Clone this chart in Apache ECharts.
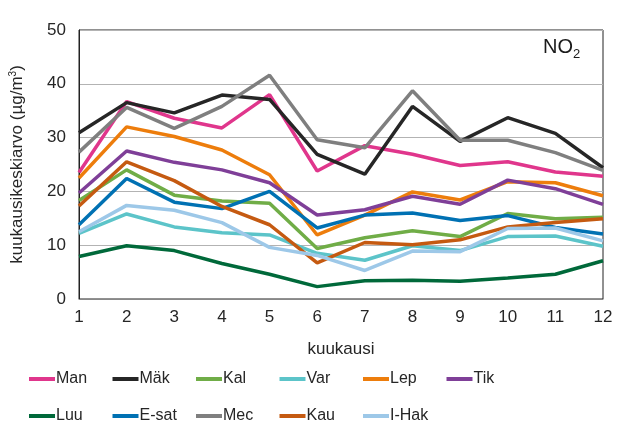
<!DOCTYPE html>
<html>
<head>
<meta charset="utf-8">
<script src="https://cdn.jsdelivr.net/npm/echarts@6/dist/echarts.min.js"></script>
<style>html,body{margin:0;padding:0;background:#fff}#c{width:629px;height:434px}</style>
</head>
<body>
<div id="c"></div>
<script>
const months = ['1','2','3','4','5','6','7','8','9','10','11','12'];
const seriesNames = ['Man','Mäk','Kal','Var','Lep','Tik','Luu','E-sat','Mec','Kau','I-Hak'];
const colors = ['#e0368c','#262626','#70ad47','#5cc4c9','#ed7d0c','#7f3f98','#00693a','#0071b3','#7f7f7f','#c55a11','#9dc8e8'];
const Man   = [23.5, 36.7, 33.6, 31.8, 38.0, 23.8, 28.5, 26.9, 24.8, 25.5, 23.6, 22.8];
const Mak   = [30.9, 36.5, 34.6, 37.9, 37.1, 26.9, 23.2, 35.8, 29.3, 33.7, 30.8, 24.4];
const Kal   = [18.3, 24.0, 19.3, 18.2, 17.8, 9.4, 11.4, 12.7, 11.6, 15.9, 14.9, 15.2];
const Var   = [12.2, 15.8, 13.4, 12.3, 11.9, 8.5, 7.2, 9.9, 9.0, 11.6, 11.7, 9.8];
const Lep   = [22.5, 32.0, 30.2, 27.7, 23.1, 11.9, 15.6, 19.9, 18.4, 21.8, 21.6, 19.2];
const Tik   = [19.7, 27.5, 25.4, 24.0, 21.6, 15.6, 16.6, 19.1, 17.6, 22.1, 20.5, 17.6];
const Luu   = [7.9, 9.9, 9.0, 6.6, 4.6, 2.3, 3.4, 3.5, 3.3, 3.9, 4.6, 7.1];
const Esat  = [13.8, 22.4, 18.0, 16.8, 20.0, 13.2, 15.6, 16.0, 14.6, 15.5, 13.3, 12.1];
const Mec   = [27.3, 35.6, 31.7, 35.8, 41.6, 29.6, 28.1, 38.7, 29.5, 29.5, 27.2, 23.9];
const Kau   = [17.3, 25.5, 22.0, 17.2, 13.8, 6.7, 10.5, 10.1, 11.0, 13.4, 14.2, 14.9];
const IHak  = [12.5, 17.4, 16.5, 14.2, 9.6, 8.1, 5.3, 8.9, 8.8, 13.1, 13.2, 10.8];
const yTicks = [0, 10, 20, 30, 40, 50];
const allData = [Man, Mak, Kal, Var, Lep, Tik, Luu, Esat, Mec, Kau, IHak];

const font = 'Liberation Sans, Arial, sans-serif';
const chart = echarts.init(document.getElementById('c'), null, {renderer: 'canvas'});

const legends = seriesNames.map((n, i) => ({
  data: [n],
  left: 29 + (i % 6) * 83.5,
  top: i < 6 ? 371 : 408,
  icon: 'rect',
  itemWidth: 26,
  itemHeight: 4,
  itemGap: 0,
  padding: 0,
  textStyle: {fontFamily: font, fontSize: 16, color: '#262626', padding: [0, 0, 0, -4]}
}));

chart.setOption({
  animation: false,
  backgroundColor: '#fff',
  color: colors,
  grid: {left: 78, right: 26, top: 30, bottom: 135, show: true, borderColor: '#222', borderWidth: 1},
  legend: legends,
  graphic: [{
    type: 'text', left: 543, top: 37,
    style: {
      text: '{a|NO}{b|2}',
      rich: {
        a: {fontFamily: font, fontSize: 20, fill: '#1a1a1a'},
        b: {fontFamily: font, fontSize: 13, fill: '#1a1a1a', padding: [14, 0, 0, 0]}
      }
    }
  }],
  xAxis: {
    type: 'category', data: months, boundaryGap: false,
    name: 'kuukausi', nameLocation: 'middle', nameGap: 42,
    nameTextStyle: {fontFamily: font, fontSize: 17, color: '#262626'},
    axisLine: {lineStyle: {color: '#888', width: 1}},
    axisTick: {show: false},
    axisLabel: {fontFamily: font, fontSize: 17, color: '#262626', margin: 10}
  },
  yAxis: {
    type: 'value', min: yTicks[0], max: yTicks[yTicks.length - 1], interval: 10,
    name: 'kuukausikeskiarvo (µg/m{s|3})', nameLocation: 'middle', nameGap: 52,
    nameTextStyle: {fontFamily: font, fontSize: 17, color: '#262626',
      rich: {s: {fontSize: 10, padding: [0, 0, 9, 0], fontFamily: font, color: '#262626'}}},
    axisLine: {show: true, lineStyle: {color: '#222'}},
    axisTick: {show: false},
    axisLabel: {fontFamily: font, fontSize: 17, color: '#262626', margin: 13}
    ,
    splitLine: {lineStyle: {color: '#b3b3b3', width: 1}}
  },
  series: seriesNames.map((n, i) => ({
    name: n, type: 'line', data: allData[i], symbol: 'none',
    lineStyle: {width: 3.5, color: colors[i]}, itemStyle: {color: colors[i]}
  }))
});
</script>
</body>
</html>
